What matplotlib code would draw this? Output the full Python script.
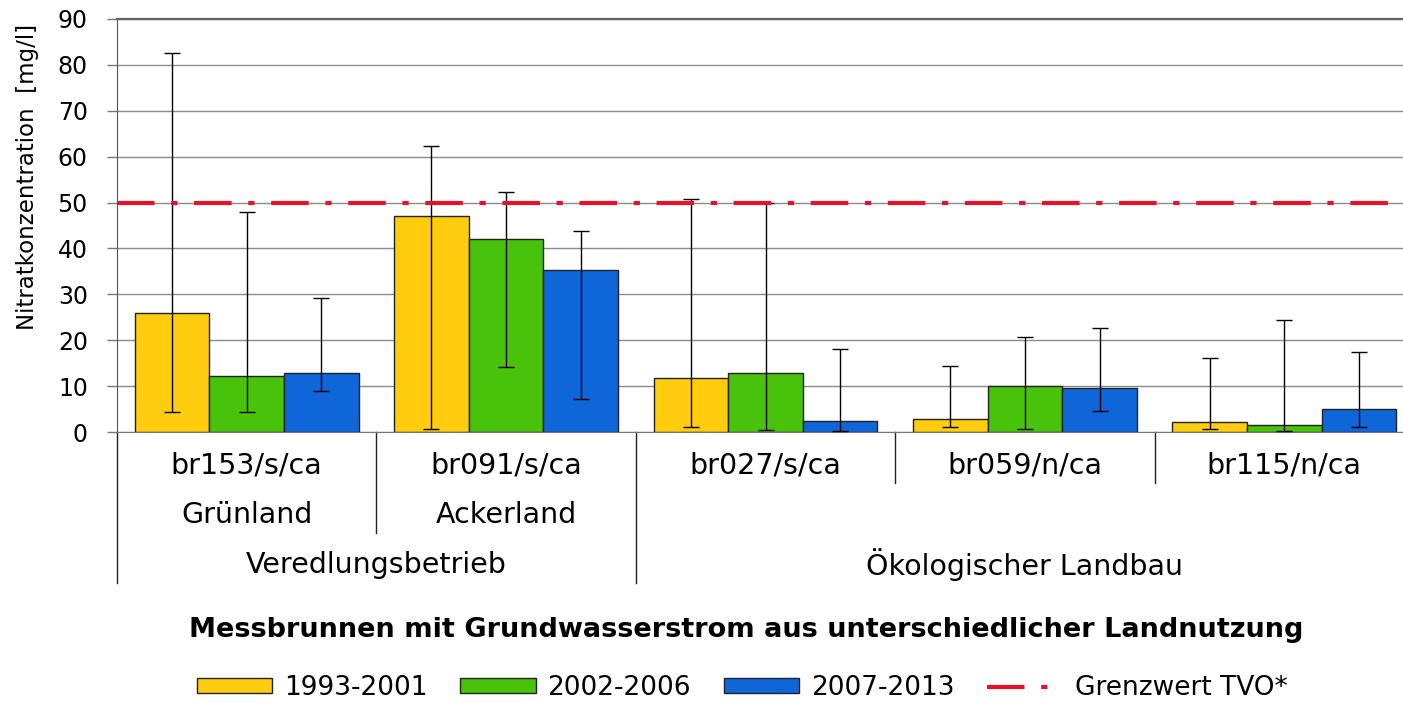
import numpy as np
import matplotlib
matplotlib.use("Agg")
import matplotlib.pyplot as plt
import matplotlib.transforms as mtransforms
from matplotlib.patches import Patch
from matplotlib.lines import Line2D

plt.rcParams['font.family'] = ['DejaVu Sans']

# data
wells = ['br153/s/ca', 'br091/s/ca', 'br027/s/ca', 'br059/n/ca', 'br115/n/ca']
landuse = ['Grünland', 'Ackerland']
farms = ['Veredlungsbetrieb', 'Ökologischer Landbau']
periods = ['1993-2001', '2002-2006', '2007-2013']

mean_9301 = [25.9, 47.1, 11.8, 2.8, 2.2]
mean_0206 = [12.2, 42.0, 12.9, 10.1, 1.5]
mean_0713 = [12.8, 35.3, 2.5, 9.6, 5.0]

min_9301 = [4.4, 0.6, 1.0, 1.1, 0.6]
min_0206 = [4.4, 14.2, 0.4, 0.6, 0.3]
min_0713 = [9.0, 7.3, 0.3, 4.5, 1.1]

max_9301 = [82.5, 62.4, 50.8, 14.4, 16.1]
max_0206 = [48.0, 52.4, 50.0, 20.7, 24.4]
max_0713 = [29.3, 43.9, 18.0, 22.7, 17.4]

limit = 50

colors = ['#FFCC0E', '#48C20A', '#0F66D8']
red = '#E8102A'

fig = plt.figure(figsize=(14.03, 7.02), dpi=100)
ax = fig.add_axes([117/1403, 1 - 432/702, (1414 - 117)/1403, 413/702])

x = np.arange(len(wells))
w = 0.2876
means = [mean_9301, mean_0206, mean_0713]
mins = [min_9301, min_0206, min_0713]
maxs = [max_9301, max_0206, max_0713]
for i in range(3):
    m = np.array(means[i])
    lo = m - np.array(mins[i])
    hi = np.array(maxs[i]) - m
    xi = x + (i - 1) * w
    ax.bar(xi, m, width=w, color=colors[i], edgecolor='#222222', linewidth=1.0, zorder=2)
    ax.errorbar(xi, m, yerr=[lo, hi], fmt='none', ecolor='black', elinewidth=1.0,
                capsize=6, capthick=1.0, zorder=3)

ax.plot([-0.5, 4.5], [limit, limit], color=red, lw=3,
        dashes=(9, 4, 1.5, 4), zorder=4)

ax.set_xlim(-0.5, 4.5)
ax.set_ylim(0, 90)
ax.set_yticks(range(0, 91, 10))
ax.yaxis.grid(True, color='#8a8a8a', lw=1.0)
ax.set_axisbelow(True)
ax.tick_params(axis='y', length=7, width=1, color='#777777', pad=14, labelsize=17)
ax.set_xticks([])
ax.spines['right'].set_visible(False)
ax.spines['top'].set_color('#666666')
ax.spines['top'].set_linewidth(1.6)
ax.spines['left'].set_color('#555555')
ax.spines['bottom'].set_color('#777777')

fig.text(28/1403, 1 - 177/702, 'Nitratkonzentration  [mg/l]', rotation=90,
         ha='center', va='center', fontsize=16.5)

# category axis below the bars
bt = mtransforms.blended_transform_factory(ax.transData, ax.transAxes)
def ypx(py):
    return (432 - py) / 413

sep = [(-0.5, 583), (0.5, 533), (1.5, 583), (2.5, 483), (3.5, 483)]
for sx, sy in sep:
    ax.plot([sx, sx], [0, ypx(sy)], color='#222222', lw=1.0, transform=bt, clip_on=False)

for i, name in enumerate(wells):
    ax.text(x[i], ypx(465), name, transform=bt, ha='center', va='center', fontsize=20.5)
for i, name in enumerate(landuse):
    ax.text(x[i], ypx(515), name, transform=bt, ha='center', va='center', fontsize=20.5)
ax.text(0.5, ypx(565), farms[0], transform=bt, ha='center', va='center', fontsize=20.5)
ax.text(3.0, ypx(565), farms[1], transform=bt, ha='center', va='center', fontsize=20.5)

fig.text(746/1403, 1 - 630/702,
         'Messbrunnen mit Grundwasserstrom aus unterschiedlicher Landnutzung',
         ha='center', va='center', fontsize=19.5, fontweight='bold')

handles = [Patch(facecolor=colors[i], edgecolor='#222222', lw=1.0) for i in range(3)]
handles.append(Line2D([0], [0], color=red, lw=3, dashes=(9, 4, 1.5, 4)))
fig.legend(handles, periods + ['Grenzwert TVO*'], loc='center',
           bbox_to_anchor=(742/1403, 1 - 688/702), ncol=4, frameon=False,
           fontsize=19, handlelength=2.85, handleheight=0.5, handletextpad=0.45,
           columnspacing=1.25)

fig.savefig('out.png', dpi=100, facecolor='white')
